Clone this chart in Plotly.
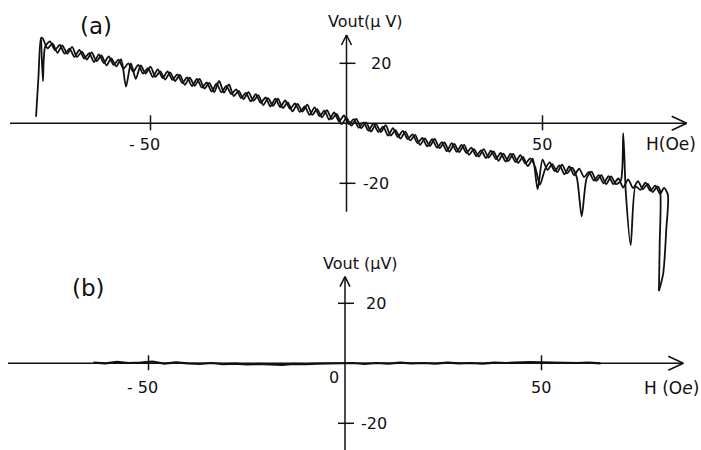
import plotly.graph_objects as go

# ---------------- data ----------------
# (a) forward sweep
H_UP = [
    -79.2, -78.6, -77.9,
    -77.5, -76.25, -75.0, -73.75, -72.5, -71.25, -70.0, -68.75, -67.5, -66.25,
    -65.0, -63.75, -62.5, -61.25, -60.0, -58.75, -57.5, -56.25, -55.0, -53.75,
    -52.5, -51.25, -50.0, -48.75, -47.5, -46.25, -45.0, -43.75, -42.5, -41.25,
    -40.0, -38.75, -37.5, -36.25, -35.0, -33.75, -32.5, -31.25, -30.0, -28.75,
    -27.5, -26.25, -25.0, -23.75, -22.5, -21.25, -20.0, -18.75, -17.5, -16.25,
    -15.0, -13.75, -12.5, -11.25, -10.0, -8.75, -7.5, -6.25, -5.0, -3.75,
    -2.5, -1.25, 0.0, 1.25, 2.5, 3.75, 5.0, 6.25, 7.5, 8.75,
    10.0, 11.25, 12.5, 13.75, 15.0, 16.25, 17.5, 18.75, 20.0, 21.25,
    22.5, 23.75, 25.0, 26.25, 27.5, 28.75, 30.0, 31.25, 32.5, 33.75,
    35.0, 36.25, 37.5, 38.75, 40.0, 41.25, 42.5, 43.75, 45.0, 46.25,
    47.5, 48.75, 50.0, 51.25, 52.5, 53.75, 55.0, 56.25, 57.5, 58.75,
    60.0, 61.25, 62.5, 63.75, 65.0, 66.25, 67.5, 68.75, 70.0, 70.6,
    71.25, 72.5, 73.75, 75.0, 76.25, 77.5, 78.75, 80.0, 81.0, 82.0,
    81.6, 80.8, 79.7,
]
V_UP = [
    2.2, 15.0, 28.5,
    28.3, 25.0, 26.6, 23.5, 26.0, 23.2, 25.5, 22.1, 23.9, 21.2,
    23.6, 20.7, 22.6, 19.3, 21.6, 19.0, 21.3, 12.2, 20.0, 14.8,
    19.3, 16.6, 18.9, 15.5, 17.3, 14.6, 17.0, 14.1, 16.1, 12.8,
    15.2, 12.5, 14.8, 11.6, 13.5, 10.4, 14.1, 10.2, 13.0, 9.1,
    10.8, 8.1, 10.4, 7.5, 9.4, 6.1, 8.4, 5.8, 8.2, 5.1,
    7.0, 4.0, 6.5, 3.9, 6.2, 2.8, 4.7, 2.0, 4.4, 1.4,
    3.1, -0.3, 1.8, -0.8, 1.5, -1.6, 0.3, -2.8, -0.2, -2.9,
    -0.6, -4.1, -2.3, -5.1, -2.8, -5.7, -3.9, -7.2, -5.0, -7.6,
    -5.2, -8.3, -6.4, -9.5, -6.9, -9.6, -7.2, -10.5, -8.6, -11.1,
    -8.6, -11.4, -9.4, -12.5, -10.1, -12.6, -10.2, -13.2, -11.2, -14.3,
    -11.8, -22.0, -12.1, -15.5, -13.6, -16.3, -13.8, -16.7, -14.8, -18.1,
    -31.0, -18.4, -16.1, -19.2, -17.3, -20.3, -17.7, -20.3, -19.0, -3.3,
    -23.0, -40.6, -21.0, -22.2, -19.8, -22.5, -20.8, -23.5, -21.5, -23.9,
    -35.0, -50.0, -55.9,
]
# (a) return sweep
H_DOWN = [
    79.7, 79.9, 80.0, 79.3,
    78.1, 76.85, 75.6, 74.35, 73.1, 71.85, 70.6, 69.35, 68.1, 66.85,
    65.6, 64.35, 63.1, 61.85, 60.6, 59.35, 58.1, 56.85, 55.6, 54.35,
    53.1, 51.85, 50.6, 49.35, 48.1, 46.85, 45.6, 44.35, 43.1, 41.85,
    40.6, 39.35, 38.1, 36.85, 35.6, 34.35, 33.1, 31.85, 30.6, 29.35,
    28.1, 26.85, 25.6, 24.35, 23.1, 21.85, 20.6, 19.35, 18.1, 16.85,
    15.6, 14.35, 13.1, 11.85, 10.6, 9.35, 8.1, 6.85, 5.6, 4.35,
    3.1, 1.85, 0.6, -0.65, -1.9, -3.15, -4.4, -5.65, -6.9, -8.15,
    -9.4, -10.65, -11.9, -13.15, -14.4, -15.65, -16.9, -18.15, -19.4, -20.65,
    -21.9, -23.15, -24.4, -25.65, -26.9, -28.15, -29.4, -30.65, -31.9, -33.15,
    -34.4, -35.65, -36.9, -38.15, -39.4, -40.65, -41.9, -43.15, -44.4, -45.65,
    -46.9, -48.15, -49.4, -50.65, -51.9, -53.15, -54.4, -55.65, -56.9, -58.15,
    -59.4, -60.65, -61.9, -63.15, -64.4, -65.65, -66.9, -68.15, -69.4, -70.65,
    -71.9, -73.15, -74.4, -75.65, -76.9, -77.45, -77.9,
]
V_DOWN = [
    -55.9, -40.0, -22.5, -21.0,
    -22.9, -20.2, -22.0, -19.3, -21.6, -18.7, -21.4, -18.4, -20.3, -17.6,
    -20.0, -17.3, -19.1, -16.2, -17.9, -15.1, -17.3, -14.4, -17.0, -14.0,
    -15.9, -13.0, -15.5, -20.5, -14.5, -11.7, -13.4, -10.6, -12.9, -10.1,
    -12.8, -9.9, -11.9, -9.1, -11.6, -9.0, -10.9, -8.1, -9.9, -7.2,
    -9.5, -6.6, -9.3, -6.3, -8.1, -5.3, -7.7, -4.9, -6.6, -3.7,
    -5.3, -2.5, -4.6, -1.6, -4.1, -1.1, -2.9, -0.1, -2.5, 0.3,
    -1.5, 1.4, -0.3, 2.6, 0.6, 3.6, 1.2, 4.2, 2.4, 5.3,
    2.8, 5.6, 3.8, 6.6, 4.8, 7.6, 5.4, 8.2, 5.6, 8.6,
    6.8, 9.7, 7.3, 10.1, 8.4, 11.3, 9.7, 12.5, 10.3, 13.2,
    10.6, 13.6, 11.9, 14.8, 12.4, 15.3, 13.4, 16.3, 14.5, 17.3,
    15.1, 18.0, 15.4, 18.4, 16.6, 19.5, 17.2, 20.0, 18.2, 21.2,
    19.5, 22.3, 20.1, 23.0, 20.4, 23.4, 21.6, 24.5, 22.1, 24.9,
    23.2, 26.1, 24.4, 27.3, 25.4, 14.0, 28.0,
]
# (b) flat response
H_B = [-64, -61, -58, -55, -52, -49, -46, -43, -40, -37, -34, -31, -28, -25, -22,
       -19, -16, -13, -10, -7, -4, -1, 2, 5, 8, 11, 14, 17, 20, 23, 26, 29, 32,
       35, 38, 41, 44, 47, 50, 53, 56, 59, 62, 65]
V_B = [0.2, 0.0, 0.5, 0.1, 0.2, 0.6, -0.1, 0.3, 0.0, -0.2, 0.1, -0.3, -0.1, -0.4, -0.2,
       -0.3, -0.5, -0.2, -0.3, -0.1, 0.0, 0.2, 0.1, -0.2, 0.1, -0.1, 0.2, 0.0, 0.1, -0.1,
       0.2, 0.0, 0.1, -0.1, 0.2, 0.1, 0.3, 0.4, 0.3, 0.2, 0.3, 0.1, 0.2, 0.0]

X_TICKS = [-50, 50]
X_TICK_TEXT = ["- 50", "50"]
Y_TICKS = [20, -20]
Y_TICK_TEXT = ["20", "-20"]

# ---------------- geometry / style ----------------
W, HT = 701, 450
INK = "#111111"
FONT = "DejaVu Sans"

PANELS = {
    "a": dict(xa="x", ya="y", X0=346.5, XS=3.92, Y0=123.3, YS=3.0, top=0, bot=300,
              xl=10, xtip=686.7, ytip=35, ybot=211.7),
    "b": dict(xa="x2", ya="y2", X0=345.0, XS=3.93, Y0=363.3, YS=3.0, top=230, bot=450,
              xl=8, xtip=683.3, ytip=276.7, ybot=450),
}

fig = go.Figure()
line_style = dict(color=INK, width=1.8, shape="spline", smoothing=0.7)
fig.add_trace(go.Scatter(x=H_UP, y=V_UP, mode="lines", line=line_style, xaxis="x", yaxis="y", hoverinfo="skip"))
fig.add_trace(go.Scatter(x=H_DOWN, y=V_DOWN, mode="lines", line=line_style, xaxis="x", yaxis="y", hoverinfo="skip"))
fig.add_trace(go.Scatter(x=H_B, y=V_B, mode="lines", line=dict(color=INK, width=2.2), xaxis="x2", yaxis="y2", hoverinfo="skip"))

shapes = []
annotations = []
for key, p in PANELS.items():
    hx = lambda px, p=p: (px - p["X0"]) / p["XS"]
    vy = lambda py, p=p: (p["Y0"] - py) / p["YS"]
    xr, yr = p["xa"], p["ya"]
    L = dict(color=INK, width=1.5)

    def seg(x0, y0, x1, y1):
        shapes.append(dict(type="line", xref=xr, yref=yr, x0=x0, y0=y0, x1=x1, y1=y1, line=L))

    # horizontal axis with open arrow head
    seg(hx(p["xl"]), 0, hx(p["xtip"]), 0)
    seg(hx(p["xtip"]), 0, hx(p["xtip"] - 15), 7 / p["YS"])
    seg(hx(p["xtip"]), 0, hx(p["xtip"] - 15), -7 / p["YS"])
    # vertical axis with open arrow head
    seg(0, vy(p["ybot"]), 0, vy(p["ytip"]))
    seg(0, vy(p["ytip"]), 5 / p["XS"], vy(p["ytip"] + 10))
    seg(0, vy(p["ytip"]), -5 / p["XS"], vy(p["ytip"] + 10))
    # ticks
    for t in X_TICKS:
        seg(t, -7 / p["YS"], t, 8 / p["YS"])
    for t in Y_TICKS:
        seg(-7 / p["XS"], t, 9 / p["XS"], t)

    def txt(x, y, s, size=16, xanchor="center", xshift=0, yshift=0):
        annotations.append(dict(xref=xr, yref=yr, x=x, y=y, text=s, showarrow=False,
                                xanchor=xanchor, yanchor="middle", xshift=xshift, yshift=yshift,
                                font=dict(family=FONT, size=size, color=INK)))

    ylab_shift = -21 if key == "a" else -24
    txt(X_TICKS[0], 0, X_TICK_TEXT[0], xshift=-6, yshift=ylab_shift)
    txt(X_TICKS[1], 0, X_TICK_TEXT[1], xshift=-1, yshift=ylab_shift)
    for t, s in zip(Y_TICKS, Y_TICK_TEXT):
        txt(0, t, s, xanchor="left", xshift=(22 if t > 0 else 14) if key == "a" else (19 if t > 0 else 14))

fa, fb = PANELS["a"], PANELS["b"]
ann_a = [
    ("(a)", (96 - fa["X0"]) / fa["XS"], (fa["Y0"] - 26) / fa["YS"], 23),
    ("Vout(µ V)", (365 - fa["X0"]) / fa["XS"], (fa["Y0"] - 21) / fa["YS"], 16),
    ("H(Oe)", (671 - fa["X0"]) / fa["XS"], (fa["Y0"] - 144) / fa["YS"], 17),
]
for s, x, y, sz in ann_a:
    annotations.append(dict(xref="x", yref="y", x=x, y=y, text=s, showarrow=False,
                            xanchor="center", yanchor="middle",
                            font=dict(family=FONT, size=sz, color=INK)))
ann_b = [
    ("(b)", (88 - fb["X0"]) / fb["XS"], (fb["Y0"] - 288) / fb["YS"], 23),
    ("Vout (µV)", (360 - fb["X0"]) / fb["XS"], (fb["Y0"] - 263) / fb["YS"], 16),
    ("H (O<i>e</i>)", (671 - fb["X0"]) / fb["XS"], (fb["Y0"] - 388) / fb["YS"], 17),
    ("0", (334 - fb["X0"]) / fb["XS"], (fb["Y0"] - 377) / fb["YS"], 16),
]
for s, x, y, sz in ann_b:
    annotations.append(dict(xref="x2", yref="y2", x=x, y=y, text=s, showarrow=False,
                            xanchor="center", yanchor="middle",
                            font=dict(family=FONT, size=sz, color=INK)))

def xrange(p):
    return [-p["X0"] / p["XS"], (W - p["X0"]) / p["XS"]]

def yrange(p):
    return [(p["Y0"] - p["bot"]) / p["YS"], (p["Y0"] - p["top"]) / p["YS"]]

def ydomain(p):
    return [1 - p["bot"] / HT, 1 - p["top"] / HT]

fig.update_layout(
    width=W, height=HT, autosize=False,
    margin=dict(l=0, r=0, t=0, b=0, pad=0),
    paper_bgcolor="white", plot_bgcolor="rgba(0,0,0,0)",
    showlegend=False,
    xaxis=dict(domain=[0, 1], range=xrange(fa), visible=False, anchor="y"),
    yaxis=dict(domain=ydomain(fa), range=yrange(fa), visible=False, anchor="x"),
    xaxis2=dict(domain=[0, 1], range=xrange(fb), visible=False, anchor="y2"),
    yaxis2=dict(domain=ydomain(fb), range=yrange(fb), visible=False, anchor="x2"),
    shapes=shapes,
    annotations=annotations,
)

fig.write_html("out.html", config={"staticPlot": True},
               post_script="document.body.style.margin='0';")
